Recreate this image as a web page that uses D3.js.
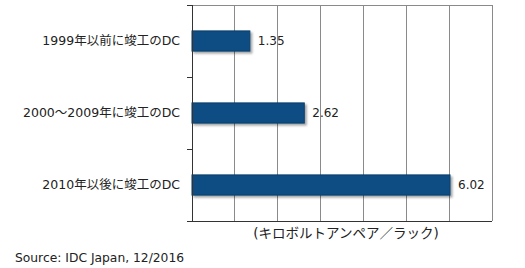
<!DOCTYPE html>
<html>
<head>
<meta charset="utf-8">
<script src="https://cdn.jsdelivr.net/npm/d3@7"></script>
<style>
  body { margin: 0; background: #fff; }
  text { font-family: "DejaVu Sans", "Noto Sans CJK JP", sans-serif; fill: #222; }
</style>
</head>
<body>
<svg id="chart" width="525" height="268"></svg>
<script>
var categories = ["1999年以前に竣工のDC", "2000～2009年に竣工のDC", "2010年以後に竣工のDC"];
var values = [1.35, 2.62, 6.02];
var xTicks = [0, 1, 2, 3, 4, 5, 6, 7];

var margin = { top: 5, left: 192, right: 33, bottom: 47 };
var width = 525 - margin.left - margin.right,
  height = 268 - margin.top - margin.bottom;

var svg = d3.select("#chart");

// drop shadow for the bars
var defs = svg.append("defs");
var filter = defs.append("filter").attr("id", "shadow")
  .attr("x", "-5%").attr("y", "-20%").attr("width", "115%").attr("height", "160%");
filter.append("feDropShadow")
  .attr("dx", 2).attr("dy", 2).attr("stdDeviation", 1)
  .attr("flood-color", "#000").attr("flood-opacity", 0.35);

var g = svg.append("g").attr("transform", `translate(${margin.left},${margin.top})`);

var x = d3.scaleLinear().domain([0, 7]).range([0, width]);
var y = d3.scaleBand().domain(categories).range([0, height]).paddingInner(0.72).paddingOuter(0.36);

// grid
g.selectAll(".grid")
  .data(xTicks.slice(1))
  .join("line")
  .attr("x1", (d) => x(d))
  .attr("x2", (d) => x(d))
  .attr("y1", 0)
  .attr("y2", height)
  .attr("stroke", "#8a8a8a")
  .attr("stroke-width", 1)
  .attr("shape-rendering", "crispEdges");

g.append("line")
  .attr("x1", 0).attr("x2", width)
  .attr("y1", 0).attr("y2", 0)
  .attr("stroke", "#8a8a8a")
  .attr("shape-rendering", "crispEdges");

// bars
g.selectAll(".bar")
  .data(values)
  .join("rect")
  .attr("x", 0)
  .attr("y", (d, i) => y(categories[i]))
  .attr("width", (d) => x(d))
  .attr("height", y.bandwidth())
  .attr("fill", "#0b4d84")
  .attr("stroke", "#0a3d68")
  .attr("stroke-width", 1)
  .attr("filter", "url(#shadow)");

// value labels
g.selectAll(".val")
  .data(values)
  .join("text")
  .attr("x", (d) => x(d) + 8)
  .attr("y", (d, i) => y(categories[i]) + y.bandwidth() / 2)
  .attr("dy", "0.35em")
  .attr("font-size", 12)
  .text((d) => d.toFixed(2));

// category boundaries for the left axis ticks
var bounds = d3.range(categories.length + 1).map((i) => (height / categories.length) * i);

g.selectAll(".ytick")
  .data(bounds)
  .join("line")
  .attr("x1", -5).attr("x2", 0)
  .attr("y1", (d) => d).attr("y2", (d) => d)
  .attr("stroke", "#333")
  .attr("shape-rendering", "crispEdges");

g.append("line")
  .attr("x1", 0).attr("x2", 0)
  .attr("y1", 0).attr("y2", height)
  .attr("stroke", "#333")
  .attr("shape-rendering", "crispEdges");

g.append("line")
  .attr("x1", 0).attr("x2", width)
  .attr("y1", height).attr("y2", height)
  .attr("stroke", "#333")
  .attr("shape-rendering", "crispEdges");

// category labels
g.selectAll(".cat")
  .data(categories)
  .join("text")
  .attr("x", -12)
  .attr("y", (d) => y(d) + y.bandwidth() / 2)
  .attr("dy", "0.35em")
  .attr("text-anchor", "end")
  .attr("font-size", 12.5)
  .text((d) => d);

// axis title
g.append("text")
  .attr("x", width / 2 + 4)
  .attr("y", height + 17)
  .attr("text-anchor", "middle")
  .attr("font-size", 13.5)
  .text("(キロボルトアンペア／ラック)");

svg.append("text")
  .attr("x", 15)
  .attr("y", 262)
  .attr("font-size", 12.3)
  .text("Source: IDC Japan, 12/2016");
</script>
</body>
</html>
